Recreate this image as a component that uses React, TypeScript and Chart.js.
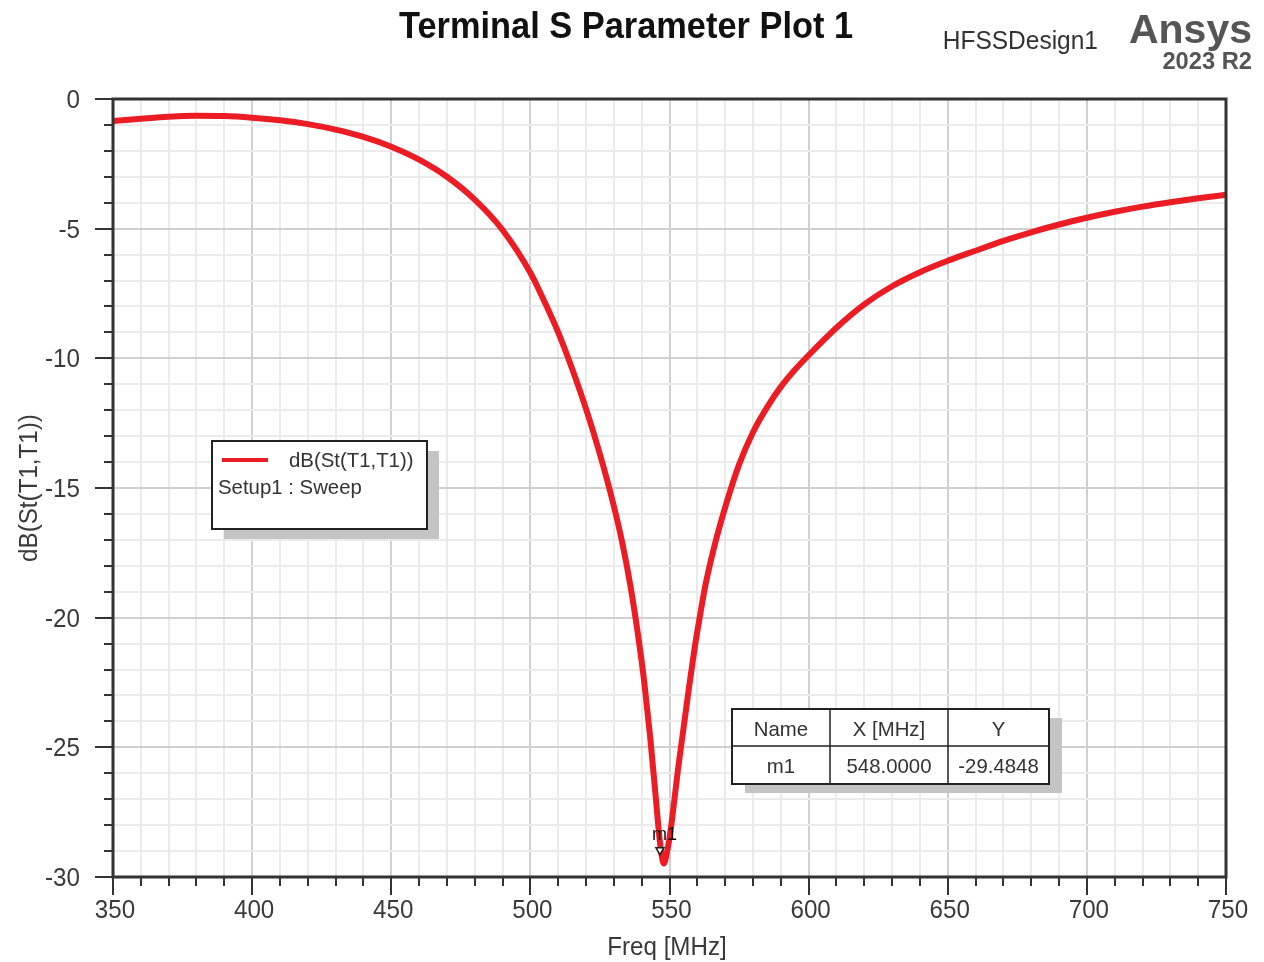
import React, { useEffect, useRef } from "react";
import { Chart, registerables } from "chart.js";

Chart.register(...registerables);

// ---- data ----
const freqMHz = [
  350, 360, 370, 380, 390, 400, 410, 420, 430, 440, 450, 460, 470, 480, 490, 500,
  505, 510, 515, 520, 525, 530, 533, 536, 539, 541, 543, 545, 546, 547, 548, 549,
  550, 551, 553, 555, 557, 559, 561, 563, 566, 570, 575, 580, 585, 590, 595, 600,
  610, 620, 630, 640, 650, 660, 670, 680, 690, 700, 710, 720, 730, 740, 750,
];
const dBSt11 = [
  -0.85, -0.76, -0.68, -0.65, -0.66, -0.72, -0.82, -0.97, -1.18, -1.46, -1.84, -2.34, -3.0, -3.88, -5.05, -6.7,
  -7.8, -9.0, -10.4, -11.95, -13.7, -15.7, -17.1, -18.8, -20.9, -22.55, -24.55, -26.85, -28.05, -29.05, -29.48, -29.1,
  -28.5, -27.7, -25.9, -24.3, -22.7, -21.2, -19.9, -18.7, -17.3, -15.75, -14.1, -12.85, -11.9, -11.1, -10.45, -9.88,
  -8.82, -7.92, -7.22, -6.68, -6.24, -5.85, -5.47, -5.14, -4.84, -4.58, -4.35, -4.15, -3.98, -3.83, -3.69,
];
const xTickLabels = [350, 400, 450, 500, 550, 600, 650, 700, 750];
const yTickLabels = [0, -5, -10, -15, -20, -25, -30];
const markerName = "m1";
const markerX = 548.0;
const markerY = -29.4848;
const tableHeaders = ["Name", "X [MHz]", "Y"];
const tableRow = [markerName, markerX.toFixed(4), markerY.toFixed(4)];
const seriesName = "dB(St(T1,T1))";
const setupName = "Setup1 : Sweep";

const FONT = '"Liberation Sans", Arial, sans-serif';
const RED = "#ec1c24";

function txt(
  ctx: CanvasRenderingContext2D,
  s: string,
  x: number,
  y: number,
  font: string,
  color: string,
  align: CanvasTextAlign,
  sx = 1,
  rot = 0
) {
  ctx.save();
  ctx.translate(x, y);
  if (rot) ctx.rotate(rot);
  ctx.scale(sx, 1);
  ctx.font = font;
  ctx.fillStyle = color;
  ctx.textAlign = align;
  ctx.textBaseline = "alphabetic";
  ctx.fillText(s, 0, 0);
  ctx.restore();
}

const overlayPlugin = {
  id: "ansysOverlay",
  afterDraw(chart: any) {
    const ctx: CanvasRenderingContext2D = chart.ctx;
    const xs = chart.scales.x;
    const ys = chart.scales.y;
    const area = chart.chartArea;
    const axisColor = "#333333";
    const labelColor = "#3a3a3a";

    // frame
    ctx.save();
    ctx.strokeStyle = axisColor;
    ctx.lineWidth = 3;
    ctx.strokeRect(area.left, area.top, area.right - area.left, area.bottom - area.top);
    ctx.restore();

    // tick marks
    ctx.save();
    ctx.strokeStyle = axisColor;
    ctx.lineWidth = 2;
    ctx.beginPath();
    xs.ticks.forEach((t: any) => {
      const px = Math.round(xs.getPixelForValue(t.value));
      const major = Math.abs(t.value % 50) < 1e-6;
      ctx.moveTo(px, area.bottom);
      ctx.lineTo(px, area.bottom + (major ? 18 : 9));
    });
    ys.ticks.forEach((t: any) => {
      const py = Math.round(ys.getPixelForValue(t.value));
      const major = Math.abs(t.value % 5) < 1e-6;
      ctx.moveTo(area.left, py);
      ctx.lineTo(area.left - (major ? 18 : 9), py);
    });
    ctx.stroke();
    ctx.restore();

    // tick labels
    const tickFont = `26px ${FONT}`;
    xTickLabels.forEach((v) => {
      txt(ctx, String(v), xs.getPixelForValue(v) + 2, 918, tickFont, labelColor, "center", 0.93);
    });
    yTickLabels.forEach((v) => {
      txt(ctx, String(v), 80, ys.getPixelForValue(v) + 9, tickFont, labelColor, "right", 0.93);
    });

    // axis titles
    txt(ctx, "Freq [MHz]", 667, 955, `26px ${FONT}`, labelColor, "center", 0.93);
    txt(ctx, "dB(St(T1,T1))", 37, 488, `26px ${FONT}`, labelColor, "center", 0.93, -Math.PI / 2);

    // titles
    txt(ctx, "Terminal S Parameter Plot 1", 626, 38, `bold 36px ${FONT}`, "#111", "center", 0.955);
    txt(ctx, "HFSSDesign1", 1098, 49, `25px ${FONT}`, "#333", "right", 0.98);
    txt(ctx, "Ansys", 1252, 43, `bold 41px ${FONT}`, "#555", "right", 1.0);
    txt(ctx, "2023 R2", 1252, 69, `bold 23px ${FONT}`, "#555", "right", 1.03);

    // legend box
    const lx = 212, ly = 441, lw = 215, lh = 88;
    ctx.save();
    ctx.fillStyle = "#c4c4c4";
    ctx.fillRect(lx + 12, ly + 10, lw, lh);
    ctx.fillStyle = "#fff";
    ctx.fillRect(lx, ly, lw, lh);
    ctx.strokeStyle = "#222";
    ctx.lineWidth = 2;
    ctx.strokeRect(lx, ly, lw, lh);
    ctx.strokeStyle = RED;
    ctx.lineWidth = 4;
    ctx.beginPath();
    ctx.moveTo(222, 460);
    ctx.lineTo(268, 460);
    ctx.stroke();
    ctx.restore();
    txt(ctx, seriesName, 289, 467, `21px ${FONT}`, "#333", "left", 0.97);
    txt(ctx, setupName, 218, 494, `21px ${FONT}`, "#333", "left", 0.97);

    // marker table
    const tx = 732, ty = 709, tw = 317, th = 75;
    const cols = [732, 830, 948, 1049];
    ctx.save();
    ctx.fillStyle = "#c4c4c4";
    ctx.fillRect(tx + 13, ty + 9, tw, th);
    ctx.fillStyle = "#fff";
    ctx.fillRect(tx, ty, tw, th);
    ctx.strokeStyle = "#222";
    ctx.lineWidth = 2;
    ctx.strokeRect(tx, ty, tw, th);
    ctx.lineWidth = 1.5;
    ctx.beginPath();
    ctx.moveTo(tx, 746);
    ctx.lineTo(tx + tw, 746);
    ctx.moveTo(830, ty);
    ctx.lineTo(830, ty + th);
    ctx.moveTo(948, ty);
    ctx.lineTo(948, ty + th);
    ctx.stroke();
    ctx.restore();
    for (let i = 0; i < 3; i++) {
      const cx = (cols[i] + cols[i + 1]) / 2;
      txt(ctx, tableHeaders[i], cx, 736, `21px ${FONT}`, "#333", "center", 0.97);
      txt(ctx, tableRow[i], cx, 773, `21px ${FONT}`, "#333", "center", 0.97);
    }

    // marker
    const mx = xs.getPixelForValue(markerX);
    const my = ys.getPixelForValue(markerY);
    ctx.save();
    ctx.fillStyle = "#fff";
    ctx.strokeStyle = "#222";
    ctx.lineWidth = 1.5;
    ctx.beginPath();
    ctx.moveTo(mx - 8, my - 16);
    ctx.lineTo(mx, my - 16);
    ctx.lineTo(mx - 4, my - 9);
    ctx.closePath();
    ctx.fill();
    ctx.stroke();
    ctx.restore();
    txt(ctx, markerName, mx - 12, my - 24, `19px ${FONT}`, "#111", "left", 0.95);
  },
};

export default function App() {
  const ref = useRef<HTMLCanvasElement | null>(null);

  useEffect(() => {
    if (!ref.current) return;
    const points = freqMHz.map((f, i) => ({ x: f, y: dBSt11[i] }));
    const chart = new Chart(ref.current, {
      type: "line",
      data: {
        datasets: [
          {
            label: seriesName,
            data: points,
            borderColor: RED,
            backgroundColor: RED,
            borderWidth: 6,
            pointRadius: 0,
            cubicInterpolationMode: "monotone",
            fill: false,
          },
        ],
      },
      options: {
        responsive: false,
        animation: false,
        events: [],
        layout: { padding: { top: 99, right: 38, left: 0, bottom: 0 } },
        plugins: {
          legend: { display: false },
          tooltip: { enabled: false },
          title: { display: false },
        },
        scales: {
          x: {
            type: "linear",
            min: 350,
            max: 750,
            ticks: { stepSize: 10, display: false },
            border: { display: false },
            grid: {
              drawTicks: false,
              lineWidth: 2,
              color: (c: any) =>
                Math.abs(c.tick.value % 50) < 1e-6 ? "#d0d0d0" : "#ebebeb",
            },
            afterFit: (s: any) => {
              s.height = 85;
            },
          },
          y: {
            type: "linear",
            min: -30,
            max: 0,
            ticks: { stepSize: 1, display: false },
            border: { display: false },
            grid: {
              drawTicks: false,
              lineWidth: 2,
              color: (c: any) =>
                Math.abs(c.tick.value % 5) < 1e-6 ? "#d0d0d0" : "#ebebeb",
            },
            afterFit: (s: any) => {
              s.width = 113;
            },
          },
        },
      } as any,
      plugins: [overlayPlugin],
    });
    return () => chart.destroy();
  }, []);

  return (
    <div
      style={{
        position: "absolute",
        left: 0,
        top: 0,
        width: 1264,
        height: 962,
        background: "#fff",
      }}
    >
      <canvas ref={ref} width={1264} height={962} style={{ display: "block" }} />
    </div>
  );
}
